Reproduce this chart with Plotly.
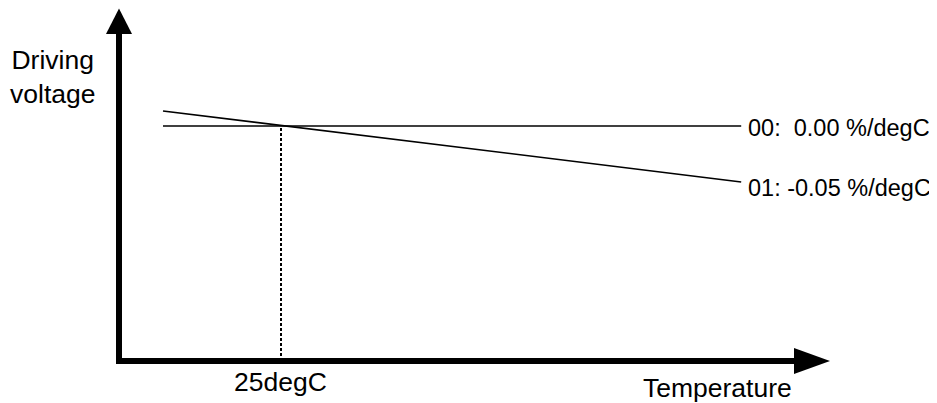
import plotly.graph_objects as go

# ---- data ----
temps = [-5, 142]            # temperature span of the curves (arbitrary units)
v_00 = [1.0, 1.0]            # 00: 0.00 %/degC
v_01 = [1.064, 0.762]        # 01: -0.05 %/degC
ref_temp = 25                # 25degC reference
ref_v = 1.0
series_labels = ["00:  0.00 %/degC", "01: -0.05 %/degC"]
y_title_lines = ["Driving", "voltage"]
x_title = "Temperature"
ref_label = "25degC"

# page body has an 8px margin; the figure is sized to fill the rest of the window
OFF = 8
SW, SH = 937, 403
W, H = SW - OFF, SH - OFF
FONT_AX = dict(family="Liberation Sans, Arial, sans-serif", size=26.5, color="black")
FONT_SER = dict(family="Liberation Sans, Arial, sans-serif", size=23.5, color="black")

def px(x, y):
    return (x - OFF) / W, 1 - (y - OFF) / H

fig = go.Figure()
fig.add_trace(go.Scatter(x=temps, y=v_00, mode="lines",
                         line=dict(color="black", width=1.6), hoverinfo="skip"))
fig.add_trace(go.Scatter(x=temps, y=v_01, mode="lines",
                         line=dict(color="black", width=1.6), hoverinfo="skip"))
fig.add_trace(go.Scatter(x=[ref_temp, ref_temp], y=[0, ref_v], mode="lines",
                         line=dict(color="black", width=2, dash="3px,2px"), hoverinfo="skip"))

shapes = []
# y axis shaft + arrow head
x0, y0 = px(119, 364); x1, y1 = px(119, 30)
shapes.append(dict(type="line", xref="paper", yref="paper", x0=x0, y0=y0, x1=x1, y1=y1,
                   line=dict(color="black", width=6)))
a = px(106, 34); b = px(132, 34); c = px(119, 8.5)
shapes.append(dict(type="path", xref="paper", yref="paper",
                   path=f"M {a[0]},{a[1]} L {b[0]},{b[1]} L {c[0]},{c[1]} Z",
                   fillcolor="black", line=dict(color="black", width=0)))
# x axis shaft + arrow head
x0, y0 = px(116, 361); x1, y1 = px(797, 361)
shapes.append(dict(type="line", xref="paper", yref="paper", x0=x0, y0=y0, x1=x1, y1=y1,
                   line=dict(color="black", width=6)))
a = px(794, 348); b = px(794, 374); c = px(830, 361)
shapes.append(dict(type="path", xref="paper", yref="paper",
                   path=f"M {a[0]},{a[1]} L {b[0]},{b[1]} L {c[0]},{c[1]} Z",
                   fillcolor="black", line=dict(color="black", width=0)))

annotations = []
def ann(text, x, y, font, xanchor="center"):
    p = px(x, y)
    annotations.append(dict(text=text, xref="paper", yref="paper", x=p[0], y=p[1],
                            xanchor=xanchor, yanchor="middle", showarrow=False,
                            font=font, align="center", borderpad=0))

ann("<br>".join(y_title_lines), 52, 77, FONT_AX)
ann(ref_label, 280, 382, FONT_AX)
ann(x_title, 717, 388, FONT_AX)
ann(series_labels[0], 747, 127.5, FONT_SER, xanchor="left")
ann(series_labels[1], 747, 187.5, FONT_SER, xanchor="left")

k = (281 - 163) / 30.0
xr = [ref_temp - (281 - OFF) / k, ref_temp + (SW - 281) / k]
yr = [(361 - SH) / 235.0, (361 - OFF) / 235.0]

fig.update_layout(
    width=W, height=H, autosize=False,
    margin=dict(l=0, r=0, t=0, b=0, pad=0),
    paper_bgcolor="white", plot_bgcolor="white",
    showlegend=False,
    xaxis=dict(range=xr, visible=False, fixedrange=True),
    yaxis=dict(range=yr, visible=False, fixedrange=True),
    shapes=shapes, annotations=annotations,
)

fig.write_html("out.html")
